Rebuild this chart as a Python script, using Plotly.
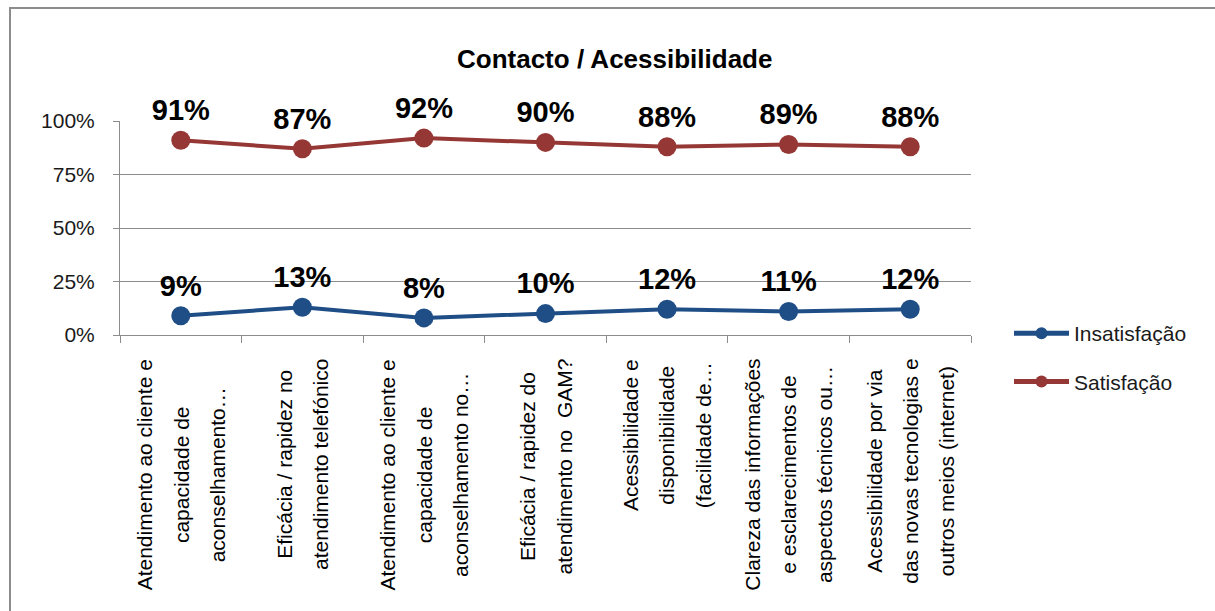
import plotly.graph_objects as go

# Category labels, one list of lines per question
categories = [
    ["Atendimento ao cliente e", "capacidade de", "aconselhamento…"],
    ["Eficácia / rapidez no", "atendimento telefónico"],
    ["Atendimento ao cliente e", "capacidade de", "aconselhamento no…"],
    ["Eficácia / rapidez do", "atendimento no  GAM?"],
    ["Acessibilidade e", "disponibilidade", "(facilidade de…"],
    ["Clareza das informações", "e esclarecimentos de", "aspectos técnicos ou…"],
    ["Acessibilidade por via", "das novas tecnologias e", "outros meios (internet)"],
]
insatisfacao = [0.09, 0.13, 0.08, 0.10, 0.12, 0.11, 0.12]
satisfacao = [0.91, 0.87, 0.92, 0.90, 0.88, 0.89, 0.88]
y_ticks = [0, 0.25, 0.5, 0.75, 1.0]
y_ticklabels = ["0%", "25%", "50%", "75%", "100%"]

FONT = "Liberation Sans, Arial, sans-serif"
BLUE = "#1f4e86"
RED = "#953735"
GRID = "#8c8c8c"

W, H = 1215, 611
L, R, T, B = 120, 244, 121, 276

keys = [f"c{i}" for i in range(len(categories))]

fig = go.Figure()
for name, vals, color in [("Insatisfação", insatisfacao, BLUE), ("Satisfação", satisfacao, RED)]:
    fig.add_trace(go.Scatter(
        x=keys, y=vals, name=name, legendgroup=name,
        mode="lines+markers+text",
        line=dict(color=color, width=4),
        marker=dict(color=color, size=19),
        text=[f"{round(v * 100)}%" for v in vals],
        textposition="top center",
        textfont=dict(family=FONT, size=29, color="black", weight="bold"),
        cliponaxis=False,
    ))

# Rotated, centred multi-line category labels below the axis
annotations = []
for key, lines in zip(keys, categories):
    txt = "<br>".join(f"<span style='font-size:21px'>{ln}</span>" for ln in lines)
    annotations.append(dict(
        x=key, y=-0.103, xref="x", yref="paper",
        text=txt, textangle=-90, showarrow=False,
        xanchor="center", yanchor="top", align="center",
        font=dict(family=FONT, size=28, color="#000000"),
    ))

pw, ph = W - L - R, H - T - B

annotations.append(dict(
    x=(614 - L) / pw, y=1.0 + (T - 59) / ph, xref="paper", yref="paper",
    text="<b>Contacto / Acessibilidade</b>", showarrow=False,
    xanchor="center", yanchor="middle",
    font=dict(family=FONT, size=26, color="#000000"),
))

fig.update_layout(
    width=W, height=H,
    margin=dict(l=L, r=R, t=T, b=B),
    paper_bgcolor="white", plot_bgcolor="white",
    font=dict(family=FONT, size=21, color="#000000"),
    showlegend=True,
    legend=dict(
        x=(1009 - L) / pw, y=(335 - 313) / ph, xanchor="left", yanchor="top",
        font=dict(family=FONT, size=21, color="#1a1a1a"),
        itemwidth=55, itemsizing="constant", tracegroupgap=18,
        bgcolor="rgba(0,0,0,0)",
    ),
    annotations=annotations,
    shapes=[dict(
        type="rect", xref="paper", yref="paper",
        x0=(10 - L) / pw, x1=(1230 - L) / pw,
        y0=(335 - 630) / ph, y1=(335 - 8) / ph,
        line=dict(color=GRID, width=2), fillcolor="rgba(0,0,0,0)", layer="below",
    )],
)
fig.update_xaxes(
    type="category", range=[-0.5, len(keys) - 0.5],
    showline=True, linecolor=GRID, linewidth=1,
    ticks="outside", tickson="boundaries", ticklen=7, tickcolor=GRID,
    showticklabels=False, showgrid=False, zeroline=False, fixedrange=True,
)
fig.update_yaxes(
    range=[0, 1], tickvals=y_ticks, ticktext=y_ticklabels,
    showline=True, linecolor=GRID, linewidth=1,
    ticks="outside", ticklen=6, tickcolor=GRID, ticklabelstandoff=14,
    showgrid=True, gridcolor=GRID, gridwidth=1, zeroline=False,
    tickfont=dict(family=FONT, size=21, color="#1a1a1a"),
)

fig.write_html("out.html")
